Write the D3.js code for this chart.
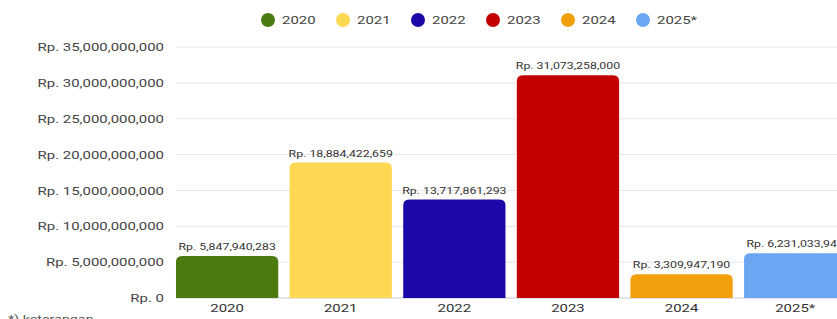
<!DOCTYPE html>
<html><head><meta charset="utf-8">
<script src="https://cdn.jsdelivr.net/npm/d3@7"></script>
<style>body{margin:0;background:#fff}svg{display:block;font-family:Roboto,"Noto Sans",sans-serif}</style>
</head><body><div id="c"></div>
<script>
const categories = ["2020","2021","2022","2023","2024","2025*"];
const values = [5847940283, 18884422659, 13717861293, 31073258000, 3309947190, 6231033943];
const colors = ["#4b7a10","#fdd853","#1c08a8","#c20000","#f29f0c","#6aa6f2"];
const yTicks = [0,5e9,10e9,15e9,20e9,25e9,30e9,35e9];

const W = 837, H = 319;
const SX = 1.3; // horizontal stretch of the text glyphs
const svg = d3.select("#c").append("svg").attr("width", W).attr("height", H);

const fmt = v => "Rp. " + d3.format(",")(v);

const y = d3.scaleLinear().domain([0, 35e9]).range([298, 47]);
const x = d3.scaleBand().domain(categories).range([170.3, 852]).paddingInner(0.1).paddingOuter(0.05);

// gridlines
svg.append("g").selectAll("line").data(yTicks).join("line")
  .attr("x1", 176).attr("x2", W).attr("y1", d => y(d)).attr("y2", d => y(d))
  .attr("stroke", d => d === 0 ? "#c8c8c8" : "#e6e6e6").attr("stroke-width", 1);

// y axis
const yAxis = d3.axisLeft(y).tickValues(yTicks).tickSize(0).tickPadding(0).tickFormat(fmt);
const gy = svg.append("g").attr("transform", "translate(164,0)").call(yAxis);
gy.select(".domain").remove();
gy.selectAll("text").attr("font-size", 11.5).attr("fill", "#444").attr("font-family", "Roboto, sans-serif")
  .attr("transform", `scale(${SX},1)`);

// x axis
const xAxis = d3.axisBottom(x).tickSize(0).tickPadding(0);
const gx = svg.append("g").attr("transform", "translate(0,304)").call(xAxis);
gx.select(".domain").remove();
gx.selectAll("text").attr("font-size", 11.5).attr("fill", "#333").attr("font-family", "Roboto, sans-serif")
  .attr("dy", "0.71em").attr("transform", `scale(${SX},1)`);

// bars with rounded tops
const r = 6;
function barPath(x0, w, yt, yb) {
  const rr = Math.min(r, (yb - yt));
  return `M${x0},${yb}V${yt+rr}Q${x0},${yt} ${x0+rr},${yt}H${x0+w-rr}Q${x0+w},${yt} ${x0+w},${yt+rr}V${yb}Z`;
}
svg.append("g").selectAll("path").data(categories).join("path")
  .attr("d", (d,i) => barPath(x(d), x.bandwidth(), y(values[i]), y(0)))
  .attr("fill", (d,i) => colors[i]);

// value labels
svg.append("g").selectAll("text").data(categories).join("text")
  .attr("transform", (d,i) => `translate(${x(d) + x.bandwidth()/2},${y(values[i]) - 6}) scale(${SX},1)`)
  .attr("text-anchor", "middle")
  .attr("font-size", 9.5).attr("fill", "#333")
  .text((d,i) => fmt(values[i]));

// legend
const lg = svg.append("g");
const lx = d3.scaleBand().domain(categories).range([262, 712]);
categories.forEach((c,i) => {
  const gx0 = lx(c);
  lg.append("circle").attr("cx", gx0 + 6).attr("cy", 20).attr("r", 7).attr("fill", colors[i]);
  lg.append("text").attr("transform", `translate(${gx0 + 20},20) scale(${SX},1)`).attr("dy", "0.35em")
    .attr("font-size", 11.5).attr("fill", "#444").text(c);
});

// footnote (cut off at the bottom edge, as in the reference)
svg.append("text").attr("transform", `translate(8,323) scale(${SX},1)`).attr("font-size", 11).attr("fill", "#555").text("*) keterangan");
</script></body></html>
